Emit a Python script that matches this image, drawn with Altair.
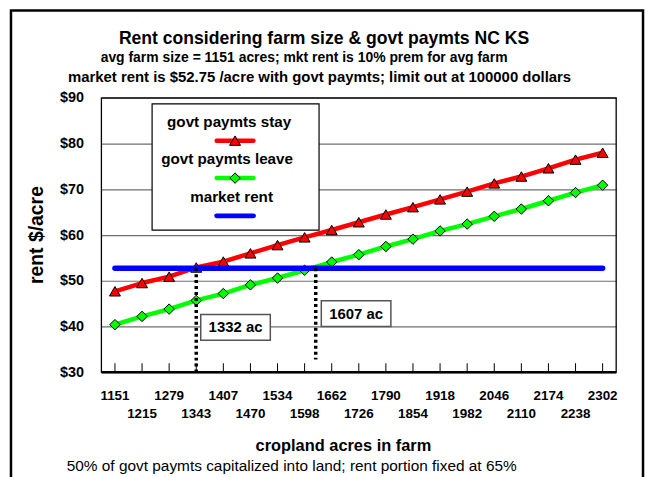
import altair as alt
import pandas as pd

# ---------------- data ----------------
acres = [1151, 1215, 1279, 1343, 1407, 1470, 1534, 1598, 1662, 1726,
         1790, 1854, 1918, 1982, 2046, 2110, 2174, 2238, 2302]
rent_stay = [47.7, 49.5, 50.9, 52.9, 54.2, 56.0, 57.8, 59.5, 61.1, 62.8,
             64.5, 66.1, 67.8, 69.5, 71.3, 72.8, 74.6, 76.5, 78.0]
rent_leave = [40.4, 42.2, 43.8, 45.7, 47.2, 49.1, 50.6, 52.3, 54.1, 55.7,
              57.5, 59.1, 60.9, 62.4, 64.1, 65.7, 67.5, 69.3, 70.9]
market_rent = 52.75
series_names = ["govt paymts stay", "govt paymts leave", "market rent"]
y_ticks = [30, 40, 50, 60, 70, 80, 90]
title_text = "Rent considering farm size & govt paymts NC KS"
subtitle_lines = ["avg farm size = 1151 acres; mkt rent is 10% prem for avg farm",
                  "market rent is $52.75 /acre with govt paymts; limit out at 100000 dollars"]
x_title = "cropland acres in farm"
y_title = "rent $/acre"
footnote = "50% of govt paymts capitalized into land; rent portion fixed at 65%"
cross_labels = ["1332 ac", "1607 ac"]
cross_pos = [3.0, 7.41]
cross_low = [30.0, 32.8]
box_pos = [4.45, 8.9]
box_val = [39.8, 42.8]

# ---------------- styling ----------------
RED, GREEN, BLUE = "#ff0000", "#00ff00", "#0000ff"
FONT = "Liberation Sans"
W, H = 518, 276
N = len(acres)
XS = alt.Scale(domain=[-0.5, N - 0.5])
YS = alt.Scale(domain=[y_ticks[0], y_ticks[-1]])
px_x = W / N
px_y = H / (y_ticks[-1] - y_ticks[0])

AX = alt.Axis(values=y_ticks, labelExpr="'$' + datum.value", title=None, grid=True,
              gridColor="#6e6e6e", gridWidth=1.2, ticks=False, domain=False,
              labelFont=FONT, labelFontSize=14.5, labelFontWeight="bold", labelColor="black",
              labelPadding=18)

df = pd.DataFrame({
    "idx": list(range(N)),
    "acres": [str(a) for a in acres],
    "stay": rent_stay,
    "leave": rent_leave,
    "market": [market_rent] * N,
})

one = alt.Data(values=[{}])

X = alt.X("idx:Q", scale=XS, axis=None)


def Y(field):
    return alt.Y(field, scale=YS, axis=AX)


# frame around the whole chart
frame = alt.Chart(one).mark_rect(fill="white", fillOpacity=0, stroke="black", strokeWidth=2.5).encode(
    x=alt.value(-91), x2=alt.value(545), y=alt.value(-88), y2=alt.value(420))

red_line = alt.Chart(df).mark_line(color=RED, strokeWidth=4.5, strokeJoin="round").encode(
    x=X, y=Y("stay:Q"))
red_pts = alt.Chart(df).mark_point(shape="triangle-up", filled=True, fill=RED, stroke="black",
                                   strokeWidth=1, size=121, opacity=1).encode(
    x=X, y=Y("stay:Q"))
green_line = alt.Chart(df).mark_line(color=GREEN, strokeWidth=4.5, strokeJoin="round").encode(
    x=X, y=Y("leave:Q"))
green_pts = alt.Chart(df).mark_point(shape="diamond", filled=True, fill=GREEN, stroke="black",
                                     strokeWidth=1, size=110, opacity=1).encode(
    x=X, y=Y("leave:Q"))
blue_line = alt.Chart(df).mark_line(color=BLUE, strokeWidth=5.5, strokeCap="round").encode(
    x=X, y=Y("market:Q"))

# plot border and bottom axis line
border = alt.Chart(one).mark_rect(fill="white", fillOpacity=0, stroke="black", strokeWidth=1.3).encode(
    x=alt.value(0), x2=alt.value(W), y=alt.value(0), y2=alt.value(H))
bottom = alt.Chart(one).mark_rule(color="black", strokeWidth=2.5).encode(
    x=alt.value(0), x2=alt.value(W), y=alt.value(H))
ticks = alt.Chart(df).mark_rule(color="black", strokeWidth=1).encode(
    x=X, y=alt.value(H), y2=alt.value(H - 9))

# x tick labels in two staggered rows
xlab_even = alt.Chart(df).transform_filter("datum.idx % 2 == 0").mark_text(
    font=FONT, fontSize=13.5, fontWeight="bold", color="black", baseline="middle").encode(
    x=X, y=alt.value(300), text="acres:N")
xlab_odd = alt.Chart(df).transform_filter("datum.idx % 2 == 1").mark_text(
    font=FONT, fontSize=13.5, fontWeight="bold", color="black", baseline="middle").encode(
    x=X, y=alt.value(318), text="acres:N")

# crossing annotations
ann = pd.DataFrame({
    "label": cross_labels,
    "pos": cross_pos,
    "low": cross_low,
    "top": [market_rent] * len(cross_labels),
    "bx": box_pos,
    "by": box_val,
})
ann["bx1"] = ann["bx"] - 35 / px_x
ann["bx2"] = ann["bx"] + 35 / px_x
ann["by1"] = ann["by"] - 13 / px_y
ann["by2"] = ann["by"] + 13 / px_y
dots = alt.Chart(ann).mark_rule(color="black", strokeWidth=3.5, strokeDash=[3, 3]).encode(
    x=alt.X("pos:Q", scale=XS, axis=None), y=Y("top:Q"), y2="low:Q")
boxes = alt.Chart(ann).mark_rect(fill="white", stroke="#555555", strokeWidth=1.5).encode(
    x=alt.X("bx1:Q", scale=XS, axis=None), x2="bx2:Q",
    y=Y("by1:Q"), y2="by2:Q")
box_txt = alt.Chart(ann).mark_text(font=FONT, fontSize=15, fontWeight="bold", color="black").encode(
    x=alt.X("bx:Q", scale=XS, axis=None), y=Y("by:Q"), text="label:N")

# legend (drawn by hand, Excel style)
leg_box = alt.Chart(one).mark_rect(fill="white", stroke="black", strokeWidth=1.2).encode(
    x=alt.value(51), x2=alt.value(219), y=alt.value(6), y2=alt.value(133))
leg_layers = [leg_box]
leg_text_y = [24.7, 62.0, 99.7]
leg_sym_y = [43.0, 80.7, 118.7]
leg_text_x = [128.5, 126.5, 131]
leg_colors = [RED, GREEN, BLUE]
leg_shapes = ["triangle-up", "diamond", None]
for name, tx, ty, sy, col, shp in zip(series_names, leg_text_x, leg_text_y, leg_sym_y, leg_colors, leg_shapes):
    leg_layers.append(alt.Chart(alt.Data(values=[{"t": name}])).mark_text(
        font=FONT, fontSize=15.3, fontWeight="bold", color="black").encode(
        x=alt.value(tx), y=alt.value(ty), text="t:N"))
    leg_layers.append(alt.Chart(one).mark_rule(color=col, strokeWidth=5 if shp is None else 4.5,
                                               strokeCap="round").encode(
        x=alt.value(116), x2=alt.value(153), y=alt.value(sy)))
    if shp is not None:
        leg_layers.append(alt.Chart(one).mark_point(shape=shp, filled=True, fill=col, stroke="black",
                                                    strokeWidth=1, size=121 if shp == "triangle-up" else 110,
                                                    opacity=1).encode(
            x=alt.value(134.5), y=alt.value(sy)))


# titles and axis titles
def txt(s, x, y, size, weight="bold", angle=0):
    return alt.Chart(alt.Data(values=[{"t": s}])).mark_text(
        font=FONT, fontSize=size, fontWeight=weight, color="black", angle=angle,
        baseline="middle", align="center").encode(
        x=alt.value(x), y=alt.value(y), text="t:N")


texts = [
    txt(title_text, 224, -59, 17.7),
    txt(subtitle_lines[0], 204, -40, 14),
    txt(subtitle_lines[1], 219.5, -21, 15),
    txt(y_title, -65, 138, 19.5, angle=270),
    txt(x_title, 243.5, 350, 16.5),
    txt(footnote, 191.5, 370, 15.5, weight="normal"),
]

chart = alt.layer(
    frame, red_line, green_line, red_pts, green_pts, blue_line, dots, ticks, border, bottom,
    boxes, box_txt, *leg_layers, xlab_even, xlab_odd, *texts
).properties(
    width=W, height=H,
    autosize=alt.AutoSizeParams(type="none"),
    padding={"left": 94, "top": 89, "right": 29, "bottom": 104},
    background="white",
).configure_view(stroke=None)

chart.save("out.html", embed_options={"renderer": "svg", "actions": False})
